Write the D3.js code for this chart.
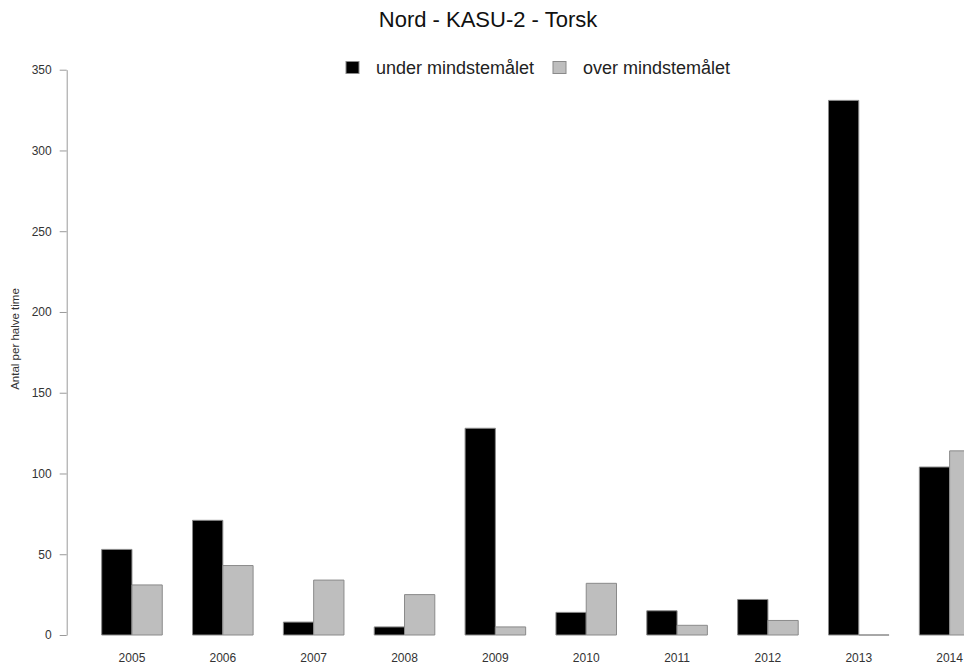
<!DOCTYPE html>
<html>
<head>
<meta charset="utf-8">
<script src="https://cdn.jsdelivr.net/npm/d3@7"></script>
<style>
  body { margin: 0; background: #fff; }
  svg { display: block; font-family: "Liberation Sans", Arial, Helvetica, sans-serif; }
</style>
</head>
<body>
<svg id="chart" width="964" height="665"></svg>
<script>
const years = ["2005","2006","2007","2008","2009","2010","2011","2012","2013","2014"];
const underValues = [53, 71, 8, 5, 128, 14, 15, 22, 331, 104];
const overValues  = [31, 43, 34, 25, 5, 32, 6, 9, 0, 114];
const seriesNames = ["under mindstemålet", "over mindstemålet"];
const seriesColors = ["#000000", "#bebebe"];
const yTicks = [0, 50, 100, 150, 200, 250, 300, 350];
const titleText = "Nord - KASU-2 - Torsk";
const yLabel = "Antal per halve time";

const svg = d3.select("#chart");

const y = d3.scaleLinear().domain([0, 350]).range([635, 69.7]);
const x = d3.scaleBand().domain(years).range([71.4, 1010.2]).paddingInner(1/3).paddingOuter(1/3);
const xs = d3.scaleBand().domain([0, 1]).range([0, x.bandwidth()]);

// bars (drawn as paths so zero-height bars still show their outline)
const data = years.map((yr, i) => ({yr, vals: [underValues[i], overValues[i]]}));
const groups = svg.append("g").selectAll("g").data(data).join("g")
  .attr("transform", d => `translate(${x(d.yr)},0)`);
groups.selectAll("path").data(d => d.vals.map((v, k) => ({v, k}))).join("path")
  .attr("d", d => {
    const x0 = xs(d.k), w = xs.bandwidth(), y0 = y(0), y1 = y(d.v);
    return `M${x0},${y0}L${x0},${y1}L${x0 + w},${y1}L${x0 + w},${y0}Z`;
  })
  .attr("fill", d => seriesColors[d.k])
  .attr("stroke", "#8a8a8a")
  .attr("stroke-width", 1);

// y axis
const yAxis = d3.axisLeft(y).tickValues(yTicks).tickSize(7).tickPadding(8).tickSizeOuter(0);
const ga = svg.append("g").attr("transform", "translate(66.7,0)").call(yAxis);
ga.select(".domain").attr("stroke", "#9a9a9a");
ga.selectAll(".tick line").attr("stroke", "#9a9a9a");
ga.selectAll(".tick text").attr("font-size", 12).attr("fill", "#333")
  .attr("font-family", "Liberation Sans, Arial, sans-serif");

// x labels
svg.append("g").selectAll("text").data(years).join("text")
  .attr("x", d => x(d) + x.bandwidth() / 2)
  .attr("y", 662)
  .attr("text-anchor", "middle")
  .attr("font-size", 12)
  .attr("fill", "#333")
  .text(d => d);

// y label
svg.append("text")
  .attr("transform", "translate(19,339) rotate(-90)")
  .attr("text-anchor", "middle")
  .attr("font-size", 11.5)
  .attr("fill", "#333")
  .text(yLabel);

// title
svg.append("text")
  .attr("x", 488).attr("y", 27)
  .attr("text-anchor", "middle")
  .attr("font-size", 22)
  .attr("fill", "#111")
  .text(titleText);

// legend
const legendX = [346, 553];
const lg = svg.append("g").selectAll("g").data(seriesNames).join("g")
  .attr("transform", (d, i) => `translate(${legendX[i]},0)`);
lg.append("rect").attr("x", 0).attr("y", 61.5).attr("width", 13).attr("height", 12)
  .attr("fill", (d, i) => seriesColors[i]).attr("stroke", "#8a8a8a");
lg.append("text").attr("x", 30).attr("y", 74).attr("font-size", 18).attr("fill", "#222")
  .text(d => d);
</script>
</body>
</html>
